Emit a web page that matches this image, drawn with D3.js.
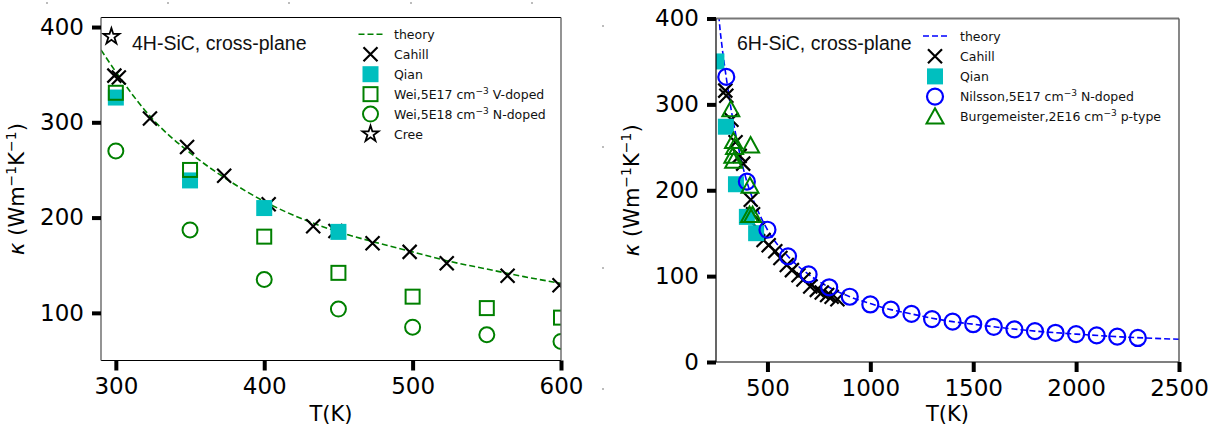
<!DOCTYPE html>
<html><head><meta charset="utf-8">
<script src="https://cdn.jsdelivr.net/npm/d3@7"></script>
<style>html,body{margin:0;padding:0;background:#fff;}svg{display:block;}</style>
</head><body>
<svg id="c" width="1221" height="432"></svg>
<script>
// ---------- 4H-SiC (left) ----------
const T4_theory = [290,300,325,350,375,400,425,450,475,500,525,550,575,600];
const K4_theory = [376,353,303,268,240,217,199,185,174,164,154,146,138,131];
const T4_cahill = [299,302,323,348,373,403,433,448,473,498,523,564,599];
const K4_cahill = [349,347,304,274,244,214,191,186,173,164,152,139,129];
const T4_qian = [300,350,400,450];
const K4_qian = [326,239,210,185];
const T4_weiV = [300,350,400,450,500,550,600];
const K4_weiV = [331,250,180,142,117,105,95];
const T4_weiN = [300,350,400,450,500,550,600];
const K4_weiN = [270,187,135,104,85,77,70];
const T4_cree = [297];
const K4_cree = [390];
const xTicks4 = [300,400,500,600];
const yTicks4 = [100,200,300,400];

// ---------- 6H-SiC (right) ----------
const T6_theory = [258,265,280,300,325,350,400,450,500,600,700,800,900,1000,1100,1200,1300,1400,1500,1600,1800,2000,2200,2500];
const K6_theory = [425,400,366,331,292,260,210,178,154,123,102,87,76,68,61,56,51,47,44,41,36,32.5,29.5,26.5];
const T6_cahill = [295,300,325,345,365,382,419,430,455,481,506,538,563,594,619,651,675,708,740,764,790,812,840];
const K6_cahill = [316,310,282,256,240,231,189,172,155,142,136,129,121,113,107,101,96,88,84,81,78,76,73];
const T6_qian = [252,298,347,400,445];
const K6_qian = [350,274,207,169,150];
const T6_nilsson = [300,400,500,600,700,800,900,1000,1100,1200,1300,1400,1500,1600,1700,1800,1900,2000,2100,2200,2300];
const K6_nilsson = [332,210,154,123,102,87,76,67,61,56,50,47,44,41,38,36,34,32.5,31,29.5,28];
const T6_burg = [322,335,340,332,336,418,415,413,428];
const K6_burg = [294,257,250,240,234,252,205,171,171];
const xTicks6 = [500,1000,1500,2000,2500];
const yTicks6 = [0,100,200,300,400];

const GREEN = "#008000", BLUE = "#0000ff", CYAN = "#00bfbf";
const svg = d3.select("#c");
const zip = (a,b) => a.map((v,i)=>[v,b[i]]);

// marker drawers
function drawMarker(g, kind, x, y) {
  if (kind === "x") {
    const s = 7;
    g.append("path").attr("d",`M${x-s},${y-s}L${x+s},${y+s}M${x-s},${y+s}L${x+s},${y-s}`)
      .attr("stroke","#000").attr("stroke-width",2.2).attr("fill","none");
  } else if (kind === "sqFill") {
    g.append("rect").attr("x",x-8).attr("y",y-8).attr("width",16).attr("height",16).attr("fill",CYAN);
  } else if (kind === "sqOpen") {
    g.append("rect").attr("x",x-7).attr("y",y-7).attr("width",14).attr("height",14)
      .attr("fill","none").attr("stroke",GREEN).attr("stroke-width",2);
  } else if (kind === "circG") {
    g.append("circle").attr("cx",x).attr("cy",y).attr("r",7.5).attr("fill","none").attr("stroke",GREEN).attr("stroke-width",2);
  } else if (kind === "circB") {
    g.append("circle").attr("cx",x).attr("cy",y).attr("r",8).attr("fill","none").attr("stroke",BLUE).attr("stroke-width",2.2);
  } else if (kind === "tri") {
    const h = 8.5;
    g.append("path").attr("d",`M${x},${y-h}L${x+h},${y+h*0.8}L${x-h},${y+h*0.8}Z`)
      .attr("fill","none").attr("stroke",GREEN).attr("stroke-width",2);
  } else if (kind === "star") {
    g.append("path").attr("d", d3.symbol(d3.symbolStar, 80)()).attr("transform",`translate(${x},${y})`)
      .attr("fill","#fff").attr("stroke","#000").attr("stroke-width",1.8);
  }
}

function panel(o) {
  const x = d3.scaleLinear().domain(o.xd).range([o.l, o.r]);
  const y = d3.scaleLinear().domain(o.yd).range([o.b, o.t]);
  const cid = "clip" + o.id;
  svg.append("clipPath").attr("id",cid).append("rect")
    .attr("x",o.l).attr("y",o.t).attr("width",o.r-o.l).attr("height",o.b-o.t);
  const plot = svg.append("g").attr("clip-path",`url(#${cid})`);
  // theory
  const line = d3.line().x(d=>x(d[0])).y(d=>y(d[1])).curve(d3.curveMonotoneX);
  plot.append("path").attr("d", line(zip(o.theory[0],o.theory[1])))
    .attr("fill","none").attr("stroke",o.tcol).attr("stroke-width",1.6).attr("stroke-dasharray","6,3");
  o.series.forEach(s => {
    zip(s.T, s.K).forEach(([t,k]) => drawMarker(plot, s.kind, x(t), y(k)));
  });
  // spines
  const sp = (x1,y1,x2,y2,c,w) => svg.append("line").attr("x1",x1).attr("y1",y1).attr("x2",x2).attr("y2",y2)
      .attr("stroke",c).attr("stroke-width",w);
  o.spines.forEach(s => sp(...s));
  // axes
  const ax = svg.append("g").attr("transform",`translate(0,${o.b})`)
    .call(d3.axisBottom(x).tickValues(o.xt).tickSize(10).tickPadding(6).tickFormat(d3.format("d")));
  const ay = svg.append("g").attr("transform",`translate(${o.l},0)`)
    .call(d3.axisLeft(y).tickValues(o.yt).tickSize(9).tickPadding(8).tickFormat(d3.format("d")));
  [ax, ay].forEach(a => {
    a.select(".domain").remove();
    a.selectAll(".tick line").attr("stroke","#000").attr("stroke-width",4);
    a.selectAll(".tick text").attr("font-family","DejaVu Sans").attr("font-size",23).attr("fill","#000");
  });
  ax.selectAll(".tick text").attr("dy","0.78em");
  // axis labels
  svg.append("text").attr("x",(o.l+o.r)/2).attr("y",421).attr("text-anchor","middle")
    .attr("font-family","DejaVu Sans").attr("font-size",21).text("T(K)");
  const yl = svg.append("text").attr("transform",`translate(${o.l-77},${(o.t+o.b)/2}) rotate(-90)`)
    .attr("text-anchor","middle").attr("font-family","DejaVu Sans").attr("font-size",21);
  yl.append("tspan").attr("font-style","italic").text("κ");
  yl.append("tspan").text(" (Wm");
  yl.append("tspan").attr("font-size",14).attr("dy",-8).text("−1");
  yl.append("tspan").attr("dy",8).text("K");
  yl.append("tspan").attr("font-size",14).attr("dy",-8).text("−1");
  yl.append("tspan").attr("dy",8).text(")");
  // title
  svg.append("text").attr("x",o.titleX).attr("y",50).attr("font-family","Liberation Sans")
    .attr("font-size",19.5).attr("fill","#111").text(o.title);
  // legend
  o.legend.forEach((e,i) => {
    const cy = o.legY + i*o.legDy;
    if (e.kind === "line") {
      svg.append("line").attr("x1",o.legMx-12).attr("x2",o.legMx+12).attr("y1",cy).attr("y2",cy)
        .attr("stroke",o.tcol).attr("stroke-width",1.6).attr("stroke-dasharray","6,3");
    } else drawMarker(svg, e.kind, o.legMx, cy);
    const t = svg.append("text").attr("x",o.legTx).attr("y",cy+4.5)
      .attr("font-family","DejaVu Sans").attr("font-size",12.5).attr("fill","#111");
    if (Array.isArray(e.label)) {
      t.append("tspan").text(e.label[0]);
      t.append("tspan").attr("font-size",9).attr("dy",-5).text(e.label[1]);
      t.append("tspan").attr("dy",5).text(e.label[2]);
    } else t.text(e.label);
  });
}

panel({
  id: "L", xd:[290,600], yd:[50,410], l:101, r:561, t:17.5, b:360.5,
  xt: xTicks4, yt: yTicks4, tcol: GREEN, theory:[T4_theory,K4_theory],
  series:[
    {T:T4_cahill,K:K4_cahill,kind:"x"},
    {T:T4_qian,K:K4_qian,kind:"sqFill"},
    {T:T4_weiV,K:K4_weiV,kind:"sqOpen"},
    {T:T4_weiN,K:K4_weiN,kind:"circG"},
    {T:T4_cree,K:K4_cree,kind:"star"}
  ],
  spines:[[101,17.5,561,17.5,"#000",1],[101,360.5,561,360.5,"#000",1.2],[101,17.5,101,360.5,"#666",1.4],[561,17.5,561,360.5,"#666",1.4]],
  title:"4H-SiC, cross-plane", titleX:132,
  legY:34.3, legDy:19.95, legMx:370.5, legTx:394,
  legend:[
    {kind:"line",label:"theory"},{kind:"x",label:"Cahill"},{kind:"sqFill",label:"Qian"},
    {kind:"sqOpen",label:["Wei,5E17 cm","−3"," V-doped"]},
    {kind:"circG",label:["Wei,5E18 cm","−3"," N-doped"]},
    {kind:"star",label:"Cree"}
  ]
});

panel({
  id: "R", xd:[250,2500], yd:[0,400], l:716, r:1179, t:18.5, b:362,
  xt: xTicks6, yt: yTicks6, tcol: BLUE, theory:[T6_theory,K6_theory],
  series:[
    {T:T6_cahill,K:K6_cahill,kind:"x"},
    {T:T6_qian,K:K6_qian,kind:"sqFill"},
    {T:T6_nilsson,K:K6_nilsson,kind:"circB"},
    {T:T6_burg,K:K6_burg,kind:"tri"}
  ],
  spines:[[716,18.5,1179,18.5,"#777",2],[716,362,1179,362,"#000",1.2],[716,18.5,716,362,"#000",1.2],[1179,18.5,1179,362,"#555",1.4]],
  title:"6H-SiC, cross-plane", titleX:737,
  legY:36, legDy:20.2, legMx:935, legTx:960,
  legend:[
    {kind:"line",label:"theory"},{kind:"x",label:"Cahill"},{kind:"sqFill",label:"Qian"},
    {kind:"circB",label:["Nilsson,5E17 cm","−3"," N-doped"]},
    {kind:"tri",label:["Burgemeister,2E16 cm","−3"," p-type"]}
  ]
});

// faint stray dots present in the reference
[[47,3],[168,3],[289,3],[411,3],[532,3],[603,26],[603,147],[603,268],[603,389]].forEach(([dx,dy]) =>
  svg.append("rect").attr("x",dx-0.75).attr("y",dy-0.75).attr("width",1.5).attr("height",1.5).attr("fill","#888"));
</script>
</body></html>
